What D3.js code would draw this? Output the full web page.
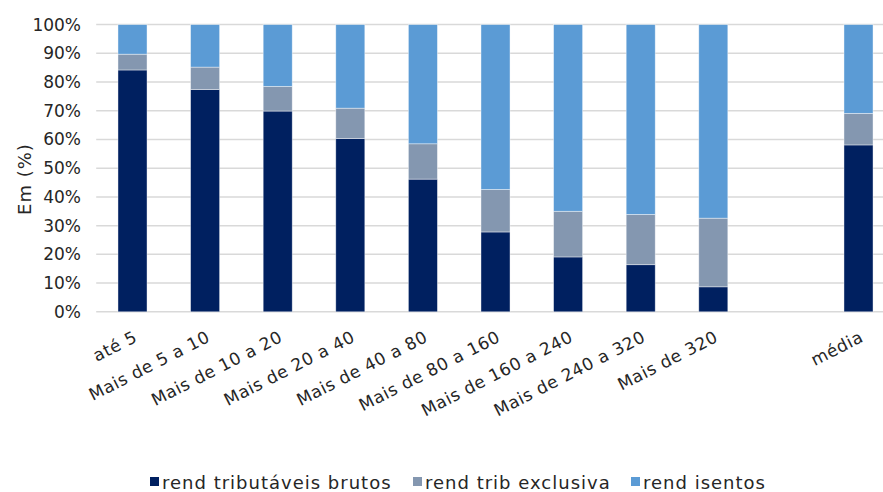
<!DOCTYPE html>
<html>
<head>
<meta charset="utf-8">
<script src="https://cdn.jsdelivr.net/npm/d3@7"></script>
<style>
  html, body { margin: 0; padding: 0; background: #fff; }
  svg { display: block; }
  text { font-family: "DejaVu Sans", sans-serif; fill: #262626; }
</style>
</head>
<body>
<svg id="chart" width="883" height="492"></svg>
<script>
// ---- data ----
const categories = ["até 5", "Mais de 5 a 10", "Mais de 10 a 20", "Mais de 20 a 40", "Mais de 40 a 80",
  "Mais de 80 a 160", "Mais de 160 a 240", "Mais de 240 a 320", "Mais de 320", "", "média"];
const seriesNames = ["rend tributáveis brutos", "rend trib exclusiva", "rend isentos"];
const tributaveis = [84.2, 77.4, 69.9, 60.3, 46.2, 27.8, 19.1, 16.4, 8.7, null, 58.1];
const exclusiva   = [5.5, 7.8, 8.6, 10.6, 12.3, 14.8, 15.9, 17.5, 23.9, null, 11.0];
const isentos     = [10.3, 14.8, 21.5, 29.1, 41.5, 57.4, 65.0, 66.1, 67.4, null, 30.9];
const yTicks = [0, 10, 20, 30, 40, 50, 60, 70, 80, 90, 100];
const yLabel = "Em (%)";
const colors = ["#002060", "#8497B0", "#5B9BD5"];

// ---- layout ----
const svg = d3.select("#chart");
const W = 883, H = 492;
const plot = { left: 96.2, right: 894.8, top: 24.6, bottom: 311.8 };
const slotKeys = categories.map((c, i) => i);

const x = d3.scaleBand().domain(slotKeys).range([plot.left, plot.right])
  .paddingInner(0.6).paddingOuter(0.3);
const y = d3.scaleLinear().domain([0, 100]).range([plot.bottom, plot.top]);

// gridlines
svg.append("g").selectAll("line").data(yTicks).join("line")
  .attr("x1", plot.left).attr("x2", W)
  .attr("y1", d => y(d)).attr("y2", d => y(d))
  .attr("stroke", "#d9d9d9").attr("stroke-width", 1.5);

// y axis labels
const yAxis = d3.axisLeft(y).tickValues(yTicks).tickFormat(d => d + "%").tickSize(0).tickPadding(0);
const gy = svg.append("g").attr("transform", `translate(${81},0)`).call(yAxis);
gy.select(".domain").remove();
gy.selectAll("text").attr("font-size", 17).attr("font-family", "DejaVu Sans").attr("fill", "#262626");

// y title
svg.append("text")
  .attr("transform", `translate(31,179) rotate(-90)`)
  .attr("text-anchor", "middle").attr("font-size", 18).attr("letter-spacing", 1).text(yLabel);

// stacked data
const rows = categories.map((c, i) => ({ i, a: tributaveis[i], b: exclusiva[i], c: isentos[i] }))
  .filter(r => r.a != null);
const stack = d3.stack().keys(["a", "b", "c"]).offset(d3.stackOffsetExpand);
const stacked = stack(rows);

svg.append("g").selectAll("g").data(stacked).join("g")
  .attr("fill", (d, k) => colors[k])
  .selectAll("rect").data(d => d).join("rect")
  .attr("x", d => x(d.data.i))
  .attr("width", x.bandwidth())
  .attr("y", d => y(d[1] * 100))
  .attr("height", d => y(d[0] * 100) - y(d[1] * 100))
  .attr("stroke", "#ffffff").attr("stroke-opacity", 0.55).attr("stroke-width", 0.75);

// x labels
const xAxis = d3.axisBottom(x).tickFormat(i => categories[i]).tickSize(0);
const gx = svg.append("g").attr("transform", `translate(0,${plot.bottom})`).call(xAxis);
gx.select(".domain").remove();
gx.selectAll("text")
  .attr("font-size", 17).attr("font-family", "DejaVu Sans").attr("fill", "#262626")
  .attr("letter-spacing", 0.6)
  .attr("text-anchor", "end")
  .attr("dy", null).attr("y", null)
  .attr("transform", "translate(6,29) rotate(-27)");

// legend
const legendItems = [
  { name: seriesNames[0], color: colors[0], x: 150 },
  { name: seriesNames[1], color: colors[1], x: 413 },
  { name: seriesNames[2], color: colors[2], x: 631 }
];
const lg = svg.append("g").selectAll("g").data(legendItems).join("g")
  .attr("transform", d => `translate(${d.x},477)`);
lg.append("rect").attr("width", 9).attr("height", 9).attr("fill", d => d.color);
lg.append("text").attr("x", 12).attr("y", 12).attr("font-size", 18).attr("letter-spacing", 1)
  .text(d => d.name);
</script>
</body>
</html>
